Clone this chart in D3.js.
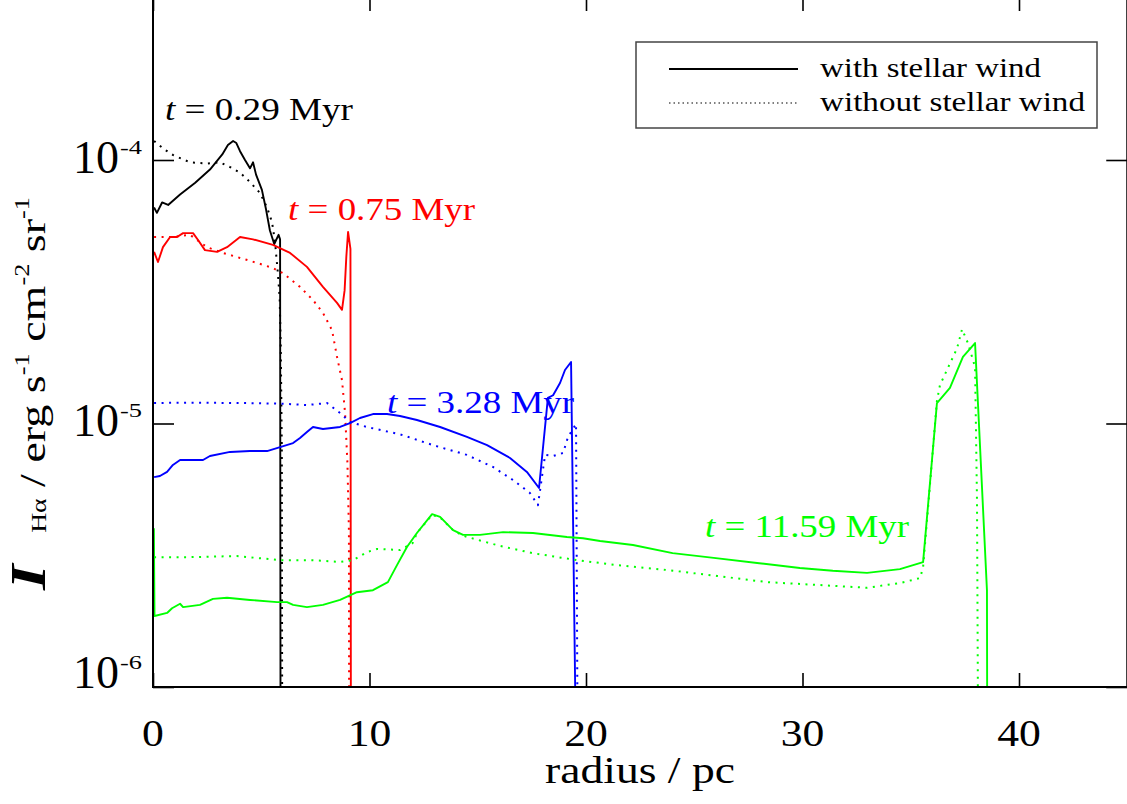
<!DOCTYPE html>
<html><head><meta charset="utf-8">
<script src="https://cdn.jsdelivr.net/npm/d3@7"></script>
<style>
body{margin:0;background:#fff}
svg{display:block}
text{font-family:"Liberation Serif","Times New Roman",serif}
</style>
</head><body>
<svg id="c" width="1127" height="804"></svg>
<script>
// ---------------- data ----------------
const radiusTicks = [0, 10, 20, 30, 40];
const intensityTicks = [1e-6, 1e-5, 1e-4];
const intensityExponents = ["-6", "-5", "-4"];
const timeLabels = ["0.29", "0.75", "3.28", "11.59"];
const seriesColors = ["#000000", "#ff0000", "#0000ff", "#00ff00"];
const legendLabels = ["with stellar wind", "without stellar wind"];

// [radius (pc), I_Halpha (erg s^-1 cm^-2 sr^-1)]
const wind029 = [[0.05,6.6e-5],[0.18,6.3e-5],[0.42,6.9e-5],[0.7,6.75e-5],[1.25,7.4e-5],[1.95,8.2e-5],[2.63,9.2e-5],[3.2,1.05e-4],[3.46,1.14e-4],[3.7,1.18e-4],[3.85,1.16e-4],[4.02,1.08e-4],[4.25,1.0e-4],[4.48,9.3e-5],[4.62,9.8e-5],[4.76,8.8e-5],[5.03,7.7e-5],[5.22,6.5e-5],[5.4,5.4e-5],[5.6,4.8e-5],[5.8,5.2e-5],[5.87,5.0e-5],[5.9,1e-7]];
const noWind029 = [[0.05,1.18e-4],[0.5,1.1e-4],[0.92,1.045e-4],[1.71,9.8e-5],[2.49,9.7e-5],[3.09,9.8e-5],[3.56,9.4e-5],[4.02,8.95e-5],[4.48,8.25e-5],[4.94,7.5e-5],[5.27,6.6e-5],[5.5,5.8e-5],[5.64,4.85e-5],[5.77,3.7e-5],[5.85,3.0e-5],[5.9,2.0e-5],[5.95,8e-6],[5.98,1e-7]];
const wind075 = [[0.05,4.48e-5],[0.23,4.1e-5],[0.46,4.67e-5],[0.79,5.1e-5],[1.11,5.1e-5],[1.39,5.28e-5],[1.85,5.28e-5],[2.08,4.97e-5],[2.4,4.55e-5],[2.96,4.48e-5],[3.42,4.67e-5],[4.02,5.1e-5],[4.62,5.0e-5],[5.54,4.76e-5],[6.33,4.44e-5],[7.11,3.93e-5],[7.85,3.3e-5],[8.5,2.87e-5],[8.73,2.7e-5],[8.85,3.2e-5],[8.93,4.3e-5],[9.01,5.33e-5],[9.12,4.6e-5],[9.15,1e-7]];
const noWind075 = [[0.05,5.1e-5],[0.92,5.1e-5],[1.71,5.2e-5],[2.49,4.67e-5],[3.23,4.44e-5],[4.02,4.25e-5],[4.8,4.07e-5],[5.54,3.89e-5],[6.0,3.72e-5],[6.79,3.3e-5],[7.39,2.94e-5],[7.85,2.63e-5],[8.27,2.26e-5],[8.5,1.79e-5],[8.73,1.46e-5],[8.87,1.1e-5],[8.98,7.1e-6],[9.05,3.9e-6],[9.07,1e-7]];
const wind328 = [[0.05,6.26e-6],[0.32,6.32e-6],[0.65,6.55e-6],[0.92,6.96e-6],[1.25,7.27e-6],[2.31,7.27e-6],[2.63,7.53e-6],[3.56,7.8e-6],[4.48,7.86e-6],[5.27,7.86e-6],[5.87,8.14e-6],[6.47,8.43e-6],[6.79,8.81e-6],[7.11,9.28e-6],[7.39,9.7e-6],[7.85,9.53e-6],[8.64,9.7e-6],[9.1,1.004e-5],[9.56,1.049e-5],[10.16,1.086e-5],[10.81,1.086e-5],[11.41,1.068e-5],[12.19,1.031e-5],[13.26,9.7e-6],[14.5,8.89e-6],[15.43,8.28e-6],[16.49,7.4e-6],[17.27,6.55e-6],[17.83,5.69e-6],[18.24,1.25e-5],[18.48,1.28e-5],[18.8,1.425e-5],[19.03,1.596e-5],[19.31,1.712e-5],[19.5,1e-6],[19.51,1e-7]];
const noWind328 = [[0.05,1.196e-5],[1.71,1.2e-5],[4.02,1.196e-5],[5.87,1.19e-5],[7.11,1.175e-5],[8.04,1.196e-5],[8.64,1.096e-5],[9.1,1.013e-5],[9.88,9.7e-6],[11.41,9.1e-6],[12.93,8.28e-6],[14.5,7.6e-6],[15.7,6.84e-6],[16.63,6.1e-6],[17.41,5.45e-6],[17.78,4.9e-6],[18.11,7.6e-6],[18.48,7.53e-6],[18.94,7.73e-6],[19.17,8.89e-6],[19.54,9.96e-6],[19.6,1e-6],[19.61,1e-7]];
const wind1159 = [[0.04,4.0e-6],[0.07,1.86e-6],[0.65,1.91e-6],[0.88,1.99e-6],[1.25,2.07e-6],[1.39,2.01e-6],[2.17,2.05e-6],[2.77,2.16e-6],[3.42,2.18e-6],[4.48,2.14e-6],[5.73,2.1e-6],[6.19,2.1e-6],[6.47,2.05e-6],[7.11,2.01e-6],[7.85,2.05e-6],[8.64,2.14e-6],[9.42,2.29e-6],[10.16,2.33e-6],[10.85,2.5e-6],[11.27,2.9e-6],[11.73,3.4e-6],[12.19,3.84e-6],[12.89,4.53e-6],[13.26,4.42e-6],[13.86,3.94e-6],[14.32,3.78e-6],[15.1,3.78e-6],[16.17,3.87e-6],[17.55,3.84e-6],[19.12,3.71e-6],[19.86,3.67e-6],[20.65,3.58e-6],[22.17,3.46e-6],[24.0,3.22e-6],[25.9,3.09e-6],[28.0,2.95e-6],[29.88,2.83e-6],[31.4,2.76e-6],[32.98,2.71e-6],[34.5,2.8e-6],[35.57,2.98e-6],[36.21,1.196e-5],[36.81,1.364e-5],[37.41,1.79e-5],[37.97,2.02e-5],[38.52,2.33e-6],[38.55,1e-7]];
const noWind1159 = [[0.05,3.11e-6],[1.71,3.11e-6],[3.88,3.14e-6],[5.87,3.03e-6],[7.39,3.03e-6],[8.64,2.98e-6],[9.24,3.03e-6],[9.88,3.25e-6],[10.35,3.34e-6],[11.41,3.31e-6],[12.0,3.52e-6],[12.19,3.84e-6],[12.89,4.5e-6],[13.26,4.4e-6],[13.86,3.94e-6],[14.32,3.75e-6],[15.1,3.6e-6],[16.03,3.43e-6],[17.55,3.22e-6],[19.58,3.03e-6],[21.43,2.9e-6],[23.74,2.78e-6],[26.05,2.64e-6],[28.36,2.5e-6],[30.67,2.44e-6],[32.98,2.38e-6],[34.5,2.48e-6],[35.43,2.59e-6],[35.57,2.85e-6],[35.8,4.8e-6],[36.21,1.22e-5],[36.35,1.4e-5],[37.14,1.93e-5],[37.37,2.28e-5],[37.64,2.02e-5],[37.97,1.64e-5],[38.06,5.1e-6],[38.1,1e-6],[38.11,1e-7]];

// annotation anchors in data space [radius, intensity]
const timeLabelAnchors = [[0.55,1.42e-4],[6.24,5.92e-5],[10.81,1.096e-5],[25.5,3.71e-6]];

// ---------------- layout ----------------
const svg = d3.select("#c");
const x = d3.scaleLinear().domain([0, 45]).range([153, 1127.25]);
const y = d3.scaleLog().domain([1e-6, 1e-4]).range([687, 160]);
const plotTop = -3;
const timeLabelWidths = [188, 187, 187, 204];

function stretch(sel, factor, fixed) {
  sel.each(function(){
    const len = this.getComputedTextLength();
    d3.select(this).attr("textLength", fixed != null ? fixed : len * factor)
      .attr("lengthAdjust", "spacingAndGlyphs");
  });
  return sel;
}

svg.append("defs").append("clipPath").attr("id", "clip")
  .append("rect").attr("x", x(0)).attr("y", plotTop)
  .attr("width", x(45) - x(0)).attr("height", y(1e-6) - plotTop);

const series = [
  {data: wind029, color: seriesColors[0], dotted: false},
  {data: noWind029, color: seriesColors[0], dotted: true},
  {data: wind075, color: seriesColors[1], dotted: false},
  {data: noWind075, color: seriesColors[1], dotted: true},
  {data: wind328, color: seriesColors[2], dotted: false},
  {data: noWind328, color: seriesColors[2], dotted: true},
  {data: wind1159, color: seriesColors[3], dotted: false},
  {data: noWind1159, color: seriesColors[3], dotted: true}
];

const line = d3.line().x(d => x(d[0])).y(d => y(d[1]));
const gLines = svg.append("g").attr("clip-path", "url(#clip)");
series.forEach(s => {
  gLines.append("path").attr("d", line(s.data))
    .attr("fill", "none").attr("stroke", s.color)
    .attr("stroke-width", s.dotted ? 2 : 1.9)
    .attr("stroke-linejoin", "round")
    .attr("stroke-dasharray", s.dotted ? "2,5.5" : null);
});

// axes (ticks only; frame drawn separately)
function styleAxis(g) {
  g.select(".domain").remove();
  g.selectAll(".tick line").attr("stroke", "#000").attr("stroke-width", 1.6);
  g.selectAll(".tick text").remove();
}
svg.append("g").attr("transform", `translate(0,${y(1e-6)})`)
  .call(d3.axisBottom(x).tickValues(radiusTicks).tickSize(-14).tickSizeOuter(0)).call(styleAxis);
svg.append("g").attr("transform", `translate(0,${plotTop})`)
  .call(d3.axisTop(x).tickValues(radiusTicks).tickSize(-14).tickSizeOuter(0)).call(styleAxis);
svg.append("g").attr("transform", `translate(${x(0)},0)`)
  .call(d3.axisLeft(y).tickValues(intensityTicks).tickSize(-21).tickSizeOuter(0)).call(styleAxis);
svg.append("g").attr("transform", `translate(${x(45)},0)`)
  .call(d3.axisRight(y).tickValues(intensityTicks).tickSize(-21).tickSizeOuter(0)).call(styleAxis);

// frame
svg.append("rect").attr("x", x(0)).attr("y", plotTop)
  .attr("width", x(45) - x(0)).attr("height", y(1e-6) - plotTop)
  .attr("fill", "none").attr("stroke", "#000").attr("stroke-width", 2);

// x tick labels
stretch(svg.append("g").selectAll("text").data(radiusTicks).join("text")
  .attr("x", d => x(d)).attr("y", y(1e-6) + 59)
  .attr("text-anchor", "middle").attr("font-size", 37).text(d => d), 1.18);

// y tick labels
intensityTicks.forEach((v, i) => {
  const base = i === 0 ? y(v) + 1 : y(v) + 12.5;
  svg.append("text").attr("x", 119).attr("y", base)
    .attr("text-anchor", "end").attr("font-size", 46).text("10");
  stretch(svg.append("text").attr("x", 120).attr("y", base - 19)
    .attr("font-size", 19).text(intensityExponents[i]), 1, 22);
});

// axis titles
stretch(svg.append("text").attr("x", 640).attr("y", 783)
  .attr("text-anchor", "middle").attr("font-size", 37).text("radius / pc"), 1, 190);

const yt = svg.append("text").attr("transform", "translate(45,393.5) rotate(-90)")
  .attr("text-anchor", "middle").attr("font-size", 35);
yt.append("tspan").attr("font-style", "italic").attr("font-weight", "bold").attr("font-size", 50).text("I");
yt.append("tspan").attr("font-size", 21).attr("dx", 24).attr("dy", 1).text("Hα");
yt.append("tspan").attr("dy", -1).text(" / erg s");
yt.append("tspan").attr("font-size", 20).attr("dy", -16).text("-1");
yt.append("tspan").attr("dy", 16).text(" cm");
yt.append("tspan").attr("font-size", 20).attr("dy", -16).text("-2");
yt.append("tspan").attr("dy", 16).text(" sr");
yt.append("tspan").attr("font-size", 20).attr("dy", -16).text("-1");
stretch(yt, 1, 393);

// time labels
timeLabels.forEach((t, i) => {
  const a = timeLabelAnchors[i];
  const tx = svg.append("text").attr("x", x(a[0])).attr("y", y(a[1]))
    .attr("font-size", 31).attr("fill", seriesColors[i]);
  tx.append("tspan").attr("font-style", "italic").text("t");
  tx.append("tspan").text(" = " + t + " Myr");
  stretch(tx, 1, timeLabelWidths[i]);
});

// legend
const lg = svg.append("g");
lg.append("rect").attr("x", 636).attr("y", 42).attr("width", 461).attr("height", 86)
  .attr("fill", "#fff").attr("stroke", "#444").attr("stroke-width", 1.5);
const legendWidths = [221, 265];
[0, 1].forEach(i => {
  const ly = 69 + i * 34;
  lg.append("line").attr("x1", 669).attr("x2", 798).attr("y1", ly).attr("y2", ly)
    .attr("stroke", "#000").attr("stroke-width", i ? 1.2 : 1.8)
    .attr("stroke-dasharray", i ? "1.5,3" : null);
  stretch(lg.append("text").attr("x", 820).attr("y", ly + 8)
    .attr("font-size", 28).text(legendLabels[i]), 1, legendWidths[i]);
});
</script>
</body></html>
